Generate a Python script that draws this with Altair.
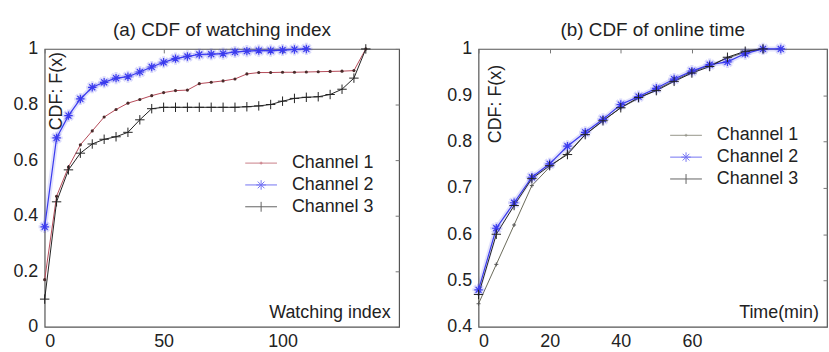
import altair as alt
import pandas as pd

FONT = "Liberation Sans"
channels = ["Channel 1", "Channel 2", "Channel 3"]

# ---- (a) CDF of watching index ----
watch_x_ch1 = list(range(0, 140, 5))
watch_ch1 = [0.17, 0.47, 0.575, 0.655, 0.705, 0.755, 0.782, 0.805, 0.818, 0.832,
             0.843, 0.85, 0.852, 0.875, 0.88, 0.885, 0.892, 0.91, 0.915, 0.915,
             0.916, 0.916, 0.917, 0.918, 0.919, 0.92, 0.922, 1.0]
watch_x_ch2 = list(range(0, 115, 5))
watch_ch2 = [0.36, 0.68, 0.76, 0.82, 0.862, 0.88, 0.895, 0.90, 0.917, 0.935,
             0.952, 0.965, 0.973, 0.98, 0.981, 0.983, 0.989, 0.992, 0.994, 0.994,
             0.996, 0.998, 1.0]
watch_x_ch3 = list(range(0, 140, 5))
watch_ch3 = [0.10, 0.45, 0.565, 0.625, 0.658, 0.675, 0.684, 0.70, 0.745, 0.785,
             0.79, 0.79, 0.79, 0.79, 0.79, 0.79, 0.79, 0.792, 0.795, 0.80,
             0.812, 0.822, 0.826, 0.828, 0.836, 0.855, 0.895, 1.0]

# ---- (b) CDF of online time ----
time_x_ch1 = list(range(0, 85, 5))
time_ch1 = [0.45, 0.535, 0.62, 0.705, 0.745, 0.775, 0.815, 0.845, 0.873, 0.893,
            0.912, 0.932, 0.95, 0.965, 0.98, 0.993, 1.0]
time_x_ch2 = list(range(0, 90, 5))
time_ch2 = [0.48, 0.613, 0.668, 0.723, 0.752, 0.79, 0.82, 0.848, 0.88, 0.897,
            0.915, 0.935, 0.952, 0.966, 0.972, 0.99, 1.0, 1.0]
time_x_ch3 = list(range(0, 85, 5))
time_ch3 = [0.47, 0.60, 0.662, 0.72, 0.748, 0.772, 0.815, 0.845, 0.873, 0.895,
            0.91, 0.93, 0.948, 0.962, 0.982, 0.995, 1.0]

# marker glyphs (unit box -1..1)
ASTERISK = "M-1,0L1,0M0,-1L0,1M-0.7,-0.7L0.7,0.7M-0.7,0.7L0.7,-0.7"
PLUS = "M-1,0L1,0M0,-1L0,1"
# legend glyphs: short line segment with the marker on top
LEG_DOT = "M-2,0L2,0M-0.18,0L0.18,0M0,-0.18L0,0.18"
LEG_AST = ("M-2,0L2,0M-0.6,0L0.6,0M0,-0.6L0,0.6"
           "M-0.42,-0.42L0.42,0.42M-0.42,0.42L0.42,-0.42")
LEG_PLUS = "M-2,0L2,0M0,-0.62L0,0.62"

BLUE = "#3a3aee"


def frame(xs, ys, name):
    return pd.DataFrame({"x": xs, "cdf": ys, "channel": name})


def panel(df, title, x_title, x_title_pos, x_domain, x_labels, x_ticks,
          y_domain, y_labels, y_title_pos, width, height, colors, ch1_marker,
          legend_xy):
    xs = alt.Scale(domain=x_domain, nice=False, zero=False)
    ys = alt.Scale(domain=y_domain, nice=False, zero=False)
    base = alt.Chart(df)

    def xy(x_axis=None, y_axis=None):
        return dict(
            x=alt.X("x:Q", scale=xs, axis=x_axis),
            y=alt.Y("cdf:Q", scale=ys, axis=y_axis),
        )

    bottom_axis = alt.Axis(
        orient="bottom", values=x_labels, format="d", domain=False, ticks=False,
        grid=False, labelFont=FONT, labelFontSize=18, labelColor="#222",
        labelPadding=6, title=x_title, titleFont=FONT, titleFontSize=18,
        titleFontWeight="normal", titleColor="#222", titleAlign=x_title_pos[2],
        titleBaseline="middle", titleX=x_title_pos[0], titleY=x_title_pos[1],
    )
    left_axis = alt.Axis(
        orient="left", values=y_labels, format=".1~f", domain=False, ticks=False,
        grid=False, labelFont=FONT, labelFontSize=18, labelColor="#222",
        labelPadding=7, labelFlush=False, title="CDF: F(x)", titleFont=FONT,
        titleFontSize=18, titleFontWeight="normal", titleColor="#222",
        titleAngle=270, titleAlign="center", titleBaseline="middle",
        titleX=y_title_pos[0], titleY=y_title_pos[1],
    )
    top_axis = alt.Axis(
        orient="top", values=x_ticks, labels=False, domain=False, grid=False,
        ticks=True, tickSize=4, offset=-4, tickColor="#777", title=None,
    )
    right_axis = alt.Axis(
        orient="right", values=y_labels, labels=False, domain=False, grid=False,
        ticks=True, tickSize=4, offset=-4, tickColor="#777", title=None,
    )

    def series(name):
        return base.transform_filter(alt.datum.channel == name)

    layers = []
    # channel 1 line (carries the bottom/left axes)
    layers.append(series("Channel 1").mark_line(color=colors[0], strokeWidth=1)
                  .encode(**xy(bottom_axis, left_axis)))
    # soft halo around the blue series
    layers.append(series("Channel 2").mark_line(color=BLUE, strokeWidth=5, opacity=0.15)
                  .encode(**xy(top_axis, right_axis)))
    layers.append(series("Channel 2").mark_line(color=colors[1], strokeWidth=1.2)
                  .encode(**xy()))
    layers.append(series("Channel 3").mark_line(color=colors[2], strokeWidth=1)
                  .encode(**xy()))
    # markers
    layers.append(series("Channel 1").mark_point(**ch1_marker).encode(**xy()))
    layers.append(series("Channel 2").mark_point(
        shape=ASTERISK, size=150, filled=False, strokeWidth=3, color=BLUE,
        opacity=0.18).encode(**xy()))
    layers.append(series("Channel 2").mark_point(
        shape=ASTERISK, size=72, filled=False, strokeWidth=1.2, color=colors[1],
        opacity=1).encode(**xy()))
    layers.append(series("Channel 3").mark_point(
        shape=PLUS, size=90, filled=False, strokeWidth=1, color=colors[2],
        opacity=1).encode(**xy()))

    leg = alt.Legend(
        title=None, orient="none", legendX=legend_xy[0], legendY=legend_xy[1],
        labelFont=FONT, labelFontSize=18, labelColor="#222", symbolSize=256,
        symbolStrokeWidth=1, labelOffset=22, rowPadding=4, padding=0,
    )
    legend_layer = base.transform_filter("datum.x < -1").mark_point(
        filled=False, strokeWidth=1
    ).encode(
        x=alt.X("x:Q", scale=xs, axis=None),
        y=alt.Y("cdf:Q", scale=ys, axis=None),
        color=alt.Color("channel:N", scale=alt.Scale(domain=channels, range=colors),
                        legend=leg),
        shape=alt.Shape("channel:N",
                        scale=alt.Scale(domain=channels, range=[LEG_DOT, LEG_AST, LEG_PLUS]),
                        legend=leg),
    )
    layers.append(legend_layer)

    return alt.layer(*layers).properties(
        width=width, height=height,
        title=alt.TitleParams(title, font=FONT, fontSize=19, fontWeight="normal",
                              color="#222", anchor="middle", offset=-3),
    )


watch_df = pd.concat([
    frame(watch_x_ch1, watch_ch1, "Channel 1"),
    frame(watch_x_ch2, watch_ch2, "Channel 2"),
    frame(watch_x_ch3, watch_ch3, "Channel 3"),
])
time_df = pd.concat([
    frame(time_x_ch1, time_ch1, "Channel 1"),
    frame(time_x_ch2, time_ch2, "Channel 2"),
    frame(time_x_ch3, time_ch3, "Channel 3"),
])

left = panel(
    watch_df, "(a) CDF of watching index", "Watching index", (348, -14, "right"),
    [0, 149], [0, 50, 100], [0, 50, 100], [0, 1], [0, 0.2, 0.4, 0.6, 0.8, 1],
    (12, 42), 357, 280, ["#b44a58", BLUE, "#222222"],
    dict(shape="circle", size=10, filled=True, color="#4a2a2a", opacity=1),
    (209, 106),
)
right = panel(
    time_df, "(b) CDF of online time", "Time(min)", (262, -14, "left"),
    [0, 98], [0, 20, 40, 60], [0, 20, 40, 60, 80], [0.4, 1],
    [0.4, 0.5, 0.6, 0.7, 0.8, 0.9, 1], (17, 55), 351, 280,
    ["#6a6a5a", BLUE, "#222222"],
    dict(shape=PLUS, size=16, filled=False, strokeWidth=1, color="#555", opacity=1),
    (200, 78),
)

chart = alt.hconcat(left, right, spacing=45).resolve_scale(
    color="independent", shape="independent"
).resolve_legend(
    color="independent", shape="independent"
).properties(
    padding={"left": 12, "top": 19, "right": 0, "bottom": 0},
    background="white",
).configure_view(stroke="#555", strokeWidth=1.2)

chart.save("out.html", embed_options={"renderer": "svg", "actions": False})
